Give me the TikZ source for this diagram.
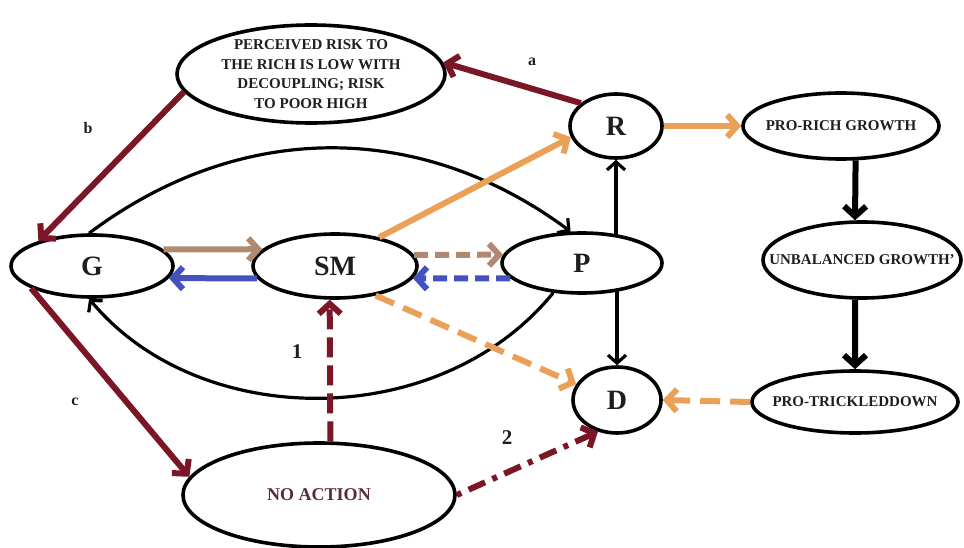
\documentclass[tikz,border=0pt]{standalone}
\usepackage{fontspec}
\setmainfont{Liberation Serif}
\usetikzlibrary{shapes.geometric, arrows.meta}

\definecolor{ink}{HTML}{1E1E1E}
\definecolor{redline}{HTML}{7A1626}
\definecolor{orangeline}{HTML}{EAA056}
\definecolor{brownline}{HTML}{B08A70}
\definecolor{blueline}{HTML}{4452C0}
\definecolor{noacttext}{HTML}{5B2B35}

\tikzset{
  oval/.style={ellipse, draw, line width=3.6pt, inner sep=0pt},
  word/.style={font=\fontsize{15}{19.5}\selectfont\bfseries, text=ink, align=center},
  letter/.style={font=\fontsize{28}{30}\selectfont\bfseries, text=ink},
  tag/.style={font=\fontsize{16}{18}\selectfont\bfseries, text=ink},
  num/.style={font=\fontsize{21}{23}\selectfont\bfseries, text=ink},
  heavy/.style={line width=6pt, -{Straight Barb[length=10pt,width=22pt]}},
  fine/.style={line width=3.2pt, -{Straight Barb[length=8pt,width=18pt]}},
}

\begin{document}
\begin{tikzpicture}[x=1pt, y=-1pt]
\useasboundingbox (0,0) rectangle (964,548);
\node[oval, minimum width=268pt, minimum height=98pt, label={[word]center:PERCEIVED RISK TO\\ THE RICH IS LOW WITH\\ DECOUPLING; RISK\\ TO POOR HIGH}] (risk) at (311,74) {};
\node[oval, minimum width=92pt, minimum height=64pt, label={[letter]center:R}] (R) at (616,126) {};
\node[oval, minimum width=196pt, minimum height=66pt, label={[word]center:PRO-RICH GROWTH}] (rich) at (841,126) {};
\node[oval, minimum width=162pt, minimum height=62pt, label={[letter]center:G}] (G) at (92,266) {};
\node[oval, minimum width=164pt, minimum height=64pt, label={[letter]center:SM}] (SM) at (335,266) {};
\node[oval, minimum width=160pt, minimum height=60pt, label={[letter]center:P}] (P) at (582,263) {};
\node[oval, minimum width=198pt, minimum height=76pt, label={[word]center:UNBALANCED GROWTH'}] (unbal) at (862,260) {};
\node[oval, minimum width=88pt, minimum height=66pt, label={[letter]center:D}] (D) at (617,400) {};
\node[oval, minimum width=206pt, minimum height=62pt, label={[word]center:PRO-TRICKLEDDOWN}] (trickle) at (855,402) {};
\node[oval, minimum width=272pt, minimum height=104pt, label={[word, font=\fontsize{18}{20}\selectfont\bfseries, text=noacttext]center:NO ACTION}] (noact) at (319,495) {};

\draw[fine] (G.95) .. controls (240,120) and (420,120) .. (P.110);
\draw[fine] (P.226) .. controls (440,432) and (200,432) .. (G.265);
\draw[fine] (R.south |- P.38) -- (R.south);
\draw[fine] (D.north |- P.322) -- (D.north);

\draw[heavy, redline] (R.147) -- (risk.5);
\draw[heavy, redline] (risk.188) -- (G.155);
\draw[heavy, redline] (G.200) -- (noact.172);
\draw[heavy, brownline] (G.13) -- (SM.167);
\draw[heavy, blueline] (SM.189) -- (G.351);
\draw[heavy, brownline, dash pattern=on 14pt off 7pt] (SM.8) -- (P.174);
\draw[heavy, blueline, dash pattern=on 14pt off 7pt] (P.192) -- (SM.351);
\draw[heavy, orangeline] (SM.33) -- (R.194);
\draw[heavy, orangeline, dash pattern=on 20pt off 10pt] (SM.324) -- (D.159);
\draw[heavy, orangeline] (R.east) -- (rich.west);
\draw[heavy, orangeline, dash pattern=on 20pt off 10pt] (trickle.west) -- (D.east);
\draw[heavy, black] (rich.293) -- (unbal.100);
\draw[heavy, black] (unbal.260) -- (trickle.north);
\draw[heavy, redline, dash pattern=on 20pt off 8pt] (noact.78) -- (SM.261);
\draw[heavy, redline, dash pattern=on 5pt off 8pt on 18pt off 8pt] (noact.east) -- (D.239);

\node[tag] (ta) at (532,62) {a};
\node[tag] (tb) at (88,128) {b};
\node[tag] (tc) at (75,402) {c};
\node[num] (n1) at (297,352) {1};
\node[num] (n2) at (507,438) {2};
\end{tikzpicture}
\end{document}
